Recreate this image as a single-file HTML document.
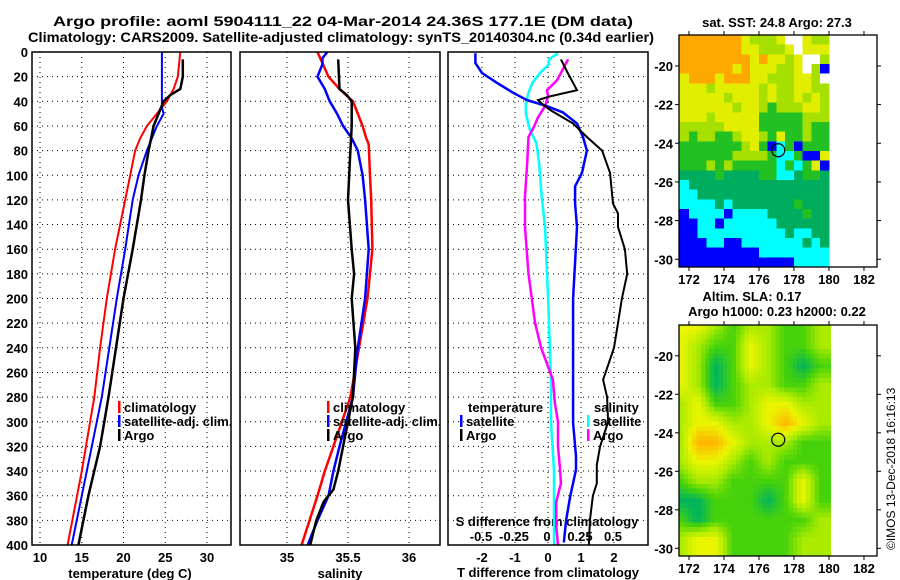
<!DOCTYPE html>
<html><head><meta charset="utf-8"><style>
html,body{margin:0;padding:0;background:#fff;}
svg{display:block;font-family:"Liberation Sans",Arial,sans-serif;font-weight:bold;}
</style></head><body>
<svg id="s" width="900" height="580" viewBox="0 0 900 580" xmlns="http://www.w3.org/2000/svg">
<text x="343" y="26" text-anchor="middle" font-size="14" textLength="580" lengthAdjust="spacingAndGlyphs">Argo profile: aoml 5904111_22 04-Mar-2014 24.36S 177.1E (DM data)</text>
<text x="341" y="42" text-anchor="middle" font-size="14" textLength="626" lengthAdjust="spacingAndGlyphs">Climatology: CARS2009. Satellite-adjusted climatology: synTS_20140304.nc (0.34d earlier)</text>
<text x="777" y="27" text-anchor="middle" font-size="13">sat. SST: 24.8 Argo: 27.3</text>
<text x="752" y="301" text-anchor="middle" font-size="13">Altim. SLA: 0.17</text>
<text x="777" y="316" text-anchor="middle" font-size="13">Argo h1000: 0.23 h2000: 0.22</text>
<text transform="translate(895,550) rotate(-90)" font-size="12" font-weight="normal">©IMOS 13-Dec-2018 16:16:13</text>
<g id="g"></g>
</svg>
<script>
// ---- data ----
const depthTicks=[0,20,40,60,80,100,120,140,160,180,200,220,240,260,280,300,320,340,360,380,400];
const tTicks=[10,15,20,25,30];
const sTicks=[35,35.5,36];
const tdTicks=[-2,-1,0,1,2];
const sdTicks=[-0.5,-0.25,0,0.25,0.5];
const sdTickLabels=["-0.5","-0.25","0","0.25","0.5"];
const tClimD=[0,20,30,40,50,60,70,80,100,120,160,200,240,280,340,400];
const tClimV=[26.8,26.5,26.0,25.2,24.0,22.8,22.0,21.4,20.8,20.2,19.0,18.0,17.2,16.5,15.0,13.3];
const tSatD=[0,45,50,60,80,100,120,160,200,240,280,340,400];
const tSatV=[24.6,24.6,24.8,24.0,22.8,21.8,21.1,20.2,19.2,18.3,17.4,15.6,13.8];
const tArgoD=[6,20,30,35,40,50,60,80,100,120,160,200,240,280,320,360,380,400];
const tArgoV=[27.1,27.1,26.8,25.6,24.8,24.2,23.6,23.0,22.5,22.1,21.1,20.0,19.1,18.2,17.2,15.8,15.2,14.6];
const sClimD=[0,20,30,40,50,60,70,75,100,120,160,200,240,280,320,340,360,400];
const sClimV=[35.25,35.34,35.43,35.54,35.58,35.62,35.65,35.67,35.68,35.69,35.70,35.66,35.59,35.52,35.38,35.31,35.25,35.12];
const sSatD=[0,5,10,20,30,40,50,60,70,80,100,120,160,200,240,280,320,340,360,380,400];
const sSatV=[35.33,35.29,35.29,35.25,35.31,35.35,35.41,35.46,35.53,35.58,35.62,35.64,35.67,35.64,35.58,35.54,35.43,35.38,35.34,35.25,35.17];
const sArgoD=[6,30,35,40,60,80,100,120,160,180,200,240,280,320,340,355,365,380,400];
const sArgoV=[35.42,35.43,35.49,35.53,35.53,35.52,35.51,35.50,35.53,35.55,35.53,35.56,35.54,35.46,35.42,35.38,35.30,35.24,35.19];
const dTSatD=[1,9,17,25,33,39,44,49,58,69,80,98,109,123,142,200,266,301,328,339,361,380,398];
const dTSatV=[-2.2,-2.2,-2.0,-1.55,-1.06,-0.64,-0.03,0.45,0.88,1.06,1.18,1.03,0.82,0.82,0.88,0.76,0.76,0.76,0.85,0.85,0.67,0.55,0.48];
const dTArgoD=[6,17,31,36,39,42,47,58,69,80,98,123,131,142,160,180,200,220,240,266,280,300,320,335,350,360,380,400];
const dTArgoV=[0.39,0.6,0.88,0.06,-0.3,-0.18,0.06,0.76,1.18,1.64,1.88,1.97,2.12,2.12,2.33,2.4,2.24,2.12,2.0,1.67,1.79,1.82,1.58,1.48,1.48,1.36,1.27,1.24];
const dSSatD=[1,6,10,17,25,33,42,50,63,74,90,117,142,200,266,300,340,380,400];
const dSSatV=[0.083,0.015,0.015,-0.053,-0.11,-0.14,-0.16,-0.16,-0.13,-0.08,-0.06,-0.04,-0.015,0.008,0.03,0.03,0.053,0.053,0.053];
const dSArgoD=[6,14,23,31,36,44,53,61,69,90,117,142,180,220,240,266,285,300,320,340,350,365,385,400];
const dSArgoV=[0.16,0.12,0.076,0,0.008,-0.015,-0.068,-0.1,-0.14,-0.15,-0.167,-0.167,-0.14,-0.09,-0.045,0.045,0.06,0.083,0.083,0.1,0.105,0.07,0.07,0.083];
const lonTicks=[172,174,176,178,180,182];
const latTicks=[-20,-22,-24,-26,-28,-30];
const argoLon=177.1, argoLat=-24.36;
const sstRows=[
"OOOOOOOYGGGYWWYGG","OOOOOOOYYGGGYWYYY","OOOOOOOOYOYYGYWWG","OOOOOOYOYYYGGYWGB",
"YOOOYOOOYYGGGYYGW","YYYGYYYYYGYGGYYGG","YYYYYGYYYGYGGYGYG","YYYYYYGYYGDGGGYYG",
"YYYGYYYYYDDDDDGGG","GGGGGYYYYDDDDDGDD","GDGGDDGYYGDYDDGDD","DDDDDDDGYDBCDBDDD",
"DDDDDDGGGGDCCDBBY","DDDGDGDDDDDCDCDYB","TTTTDTTTTDDCCTDDT","CTTTTTTTTTTTTTTTT",
"CCTTTTTTTTTTTTTTT","CCCCTCTTTTTTTDTTT","BCCCCBCCCCTTTTDTT","BBCCBCCCCCCTTTTTT",
"BBCCCCCCCCCCTCCTT","BBBCCBBCCCCCCCTCT","BBBBBBBBBCCCCCCCC","BBBBBBBBBBBBBCCCC"];
const slaGrid=[
[3,3,2,1,2,2,1,1,2],[3,2,1,1,3,2,1,1,2],[3,2,0,1,3,2,1,0,1],[3,2,0,1,2,2,1,1,2],
[2,3,1,1,2,3,3,2,2],[2,3,3,2,2,3,4,3,2],[2,4,4,3,2,2,2,1,1],[2,3,3,2,1,2,1,1,1],
[1,2,2,1,1,1,1,3,1],[0,0,1,1,1,0,1,3,1],[1,0,1,1,1,1,1,1,2],[2,3,3,1,1,1,1,2,2],[2,3,3,1,1,1,1,2,2]];

const NS="http://www.w3.org/2000/svg";
const G=document.getElementById('g');
function mk(tag,attrs,parent){const e=document.createElementNS(NS,tag);for(const k in attrs)e.setAttribute(k,attrs[k]);(parent||G).appendChild(e);return e;}
const Y0=52,Y1=545;
const yD=d=>Y0+d*(Y1-Y0)/400;
const xT=v=>40+(v-10)*8.35;
const xS=v=>287+(v-35)*122;
const xDT=v=>548+v*33;
const xDS=v=>547+v*132;
const panels=[[32,231],[240,440],[448,648]];

function frame(x0,x1,name){
  const r=mk('rect',{x:x0,y:Y0,width:x1-x0,height:Y1-Y0,fill:'none',stroke:'#000','stroke-width':1.5});
  
  
}
function grid(x0,x1,xs){
  depthTicks.forEach(d=>{if(d>0&&d<400){const l=mk('line',{x1:x0,x2:x1,y1:yD(d),y2:yD(d),stroke:'#000','stroke-dasharray':'1,4'});
    }});
  xs.forEach(x=>{const l=mk('line',{x1:x,x2:x,y1:Y0,y2:Y1,stroke:'#000','stroke-dasharray':'1,4'});
    });
}
function line(D,V,fx,color,w,name){
  const pts=D.map((d,i)=>fx(V[i]).toFixed(1)+','+yD(d).toFixed(1)).join(' ');
  const p=mk('polyline',{points:pts,fill:'none',stroke:color,'stroke-width':w});
  
  
}
function txt(x,y,s,opts,name){
  const t=mk('text',Object.assign({x:x,y:y,'font-size':12},opts||{}));t.textContent=s;
  
  
  return t;
}
grid(32,231,tTicks.map(xT));
grid(240,440,sTicks.map(xS));
grid(448,648,tdTicks.map(xDT));
depthTicks.forEach(d=>txt(28,yD(d)+5,String(d),{'text-anchor':'end','font-size':13},'y-tick-label'));
tTicks.forEach(v=>txt(xT(v),562,String(v),{'text-anchor':'middle','font-size':13},'x-tick-label-temperature'));
sTicks.forEach(v=>txt(xS(v),562,String(v),{'text-anchor':'middle','font-size':13},'x-tick-label-salinity'));
tdTicks.forEach(v=>txt(xDT(v),562,String(v),{'text-anchor':'middle','font-size':13},'x-tick-label-tdiff'));
sdTicks.forEach((v,i)=>txt(xDS(v),541,sdTickLabels[i],{'text-anchor':'middle','font-size':13},'s-diff-tick-label'));
txt(130,578,'temperature (deg C)',{'text-anchor':'middle','font-size':13},'x-axis-title-temperature');
txt(340,578,'salinity',{'text-anchor':'middle','font-size':13},'x-axis-title-salinity');
txt(548,577,'T difference from climatology',{'text-anchor':'middle','font-size':13},'x-axis-title-tdiff');
txt(547,526,'S difference from climatology',{'text-anchor':'middle','font-size':13},'s-diff-axis-title');
line(tClimD,tClimV,xT,'#ff0000',2,'temperature-climatology-line');
line(tSatD,tSatV,xT,'#0000ff',2,'temperature-satellite-line');
line(tArgoD,tArgoV,xT,'#000000',2.5,'temperature-argo-line');
line(sClimD,sClimV,xS,'#ff0000',2.5,'salinity-climatology-line');
line(sSatD,sSatV,xS,'#0000ff',2.5,'salinity-satellite-line');
line(sArgoD,sArgoV,xS,'#000000',2.5,'salinity-argo-line');
line(dSSatD,dSSatV,xDS,'#00ffff',2.5,'sdiff-satellite-line');
line(dSArgoD,dSArgoV,xDS,'#ff00ff',2.5,'sdiff-argo-line');
line(dTSatD,dTSatV,xDT,'#0000ff',2.5,'tdiff-satellite-line');
line(dTArgoD,dTArgoV,xDT,'#000000',2,'tdiff-argo-line');
function leg(x,y,color,label,name){
  const r=mk('rect',{x:x-1,y:y-11,width:2.5,height:12,fill:color});
  
  txt(x+5,y,label,{'font-size':13},name);
}
[[119,'#ff0000','climatology'],[119,'#0000ff','satellite-adj. clim.'],[119,'#000000','Argo']].forEach((e,i)=>leg(e[0],412+i*14,e[1],e[2],'legend-entry-temperature'));
[[328,'#ff0000','climatology'],[328,'#0000ff','satellite-adj. clim.'],[328,'#000000','Argo']].forEach((e,i)=>leg(e[0],412+i*14,e[1],e[2],'legend-entry-salinity'));
txt(468,412,'temperature',{'font-size':13},'legend-title-temperature');
txt(594,412,'salinity',{'font-size':13},'legend-title-salinity');
leg(461,426,'#0000ff','satellite','legend-entry-tdiff');
leg(461,440,'#000000','Argo','legend-entry-tdiff');
leg(588,426,'#00ffff','satellite','legend-entry-sdiff');
leg(588,440,'#ff00ff','Argo','legend-entry-sdiff');
panels.forEach((p,i)=>frame(p[0],p[1],'profile-panel-frame-'+(i+1)));

// ---- maps ----
const sstColor={O:'#ffa800',Y:'#e2ee00',G:'#a6e000',D:'#22c022',T:'#00ad5e',C:'#00ffff',B:'#0000ff',W:'#ffffff'};
const slaColor=[[0,180,95],[70,210,10],[170,235,0],[235,245,0],[255,180,0]];
function slaCol(v){v=Math.max(0,Math.min(4,v));const i=Math.min(3,Math.floor(v)),f=v-i;
  const a=slaColor[i],b=slaColor[i+1];return 'rgb('+a.map((x,k)=>Math.round(x+(b[k]-x)*f)).join(',')+')';}
function drawMap(top,bot,which){
  const latTop=-18.4, latBot=-30.4;
  const ly=v=>top+(latTop-v)*(bot-top)/(latTop-latBot);
  const lx=v=>679+(v-171.43)*17.5;
  const grp=mk('g',{'shape-rendering':'crispEdges'});
  
  
  if(which==='sst'){
    sstRows.forEach((row,r)=>{
      for(let c=0;c<row.length;c++){
        const x0=c===0?679:lx(171.5+c*0.5), x1=lx(172+c*0.5);
        const y0=ly(latTop-r*0.5), y1=ly(Math.max(latBot,latTop-(r+1)*0.5));
        const cell=mk('rect',{x:x0,y:y0,width:x1-x0+0.5,height:y1-y0+0.5,fill:sstColor[row[c]]},grp);
        
        
      }
    });
  } else {
    const nr=slaGrid.length,nc=slaGrid[0].length;
    const step=0.25;
    for(let la=latTop;la>latBot+1e-6;la-=step){
      for(let lo=171.43;lo<180.1-1e-6;lo+=step){
        const cl=la-step/2, co=lo+step/2;
        let fr=Math.min(nr-1,Math.max(0,(-18.5-cl)));
        let fc=Math.min(nc-1,Math.max(0,(co-171.5)));
        const r0=Math.floor(fr),c0=Math.floor(fc),r1=Math.min(nr-1,r0+1),c1=Math.min(nc-1,c0+1);
        const a=fr-r0,b=fc-c0;
        const v=(1-a)*((1-b)*slaGrid[r0][c0]+b*slaGrid[r0][c1])+a*((1-b)*slaGrid[r1][c0]+b*slaGrid[r1][c1]);
        const x0=lx(lo),x1=Math.min(lx(180.1),lx(lo+step));
        const y1=Math.min(bot,ly(la-step));
        const cell=mk('rect',{x:x0,y:ly(la),width:x1-x0+0.5,height:y1-ly(la)+0.5,fill:slaCol(v)},grp);
        
        
      }
    }
  }
  const fr=mk('rect',{x:679,y:top,width:198,height:bot-top,fill:'none',stroke:'#000','stroke-width':1.3});
  
  
  latTicks.forEach(v=>{txt(673,ly(v)+5,String(v),{'text-anchor':'end','font-size':13},'map-lat-label');
    mk('line',{x1:675,x2:679,y1:ly(v),y2:ly(v),stroke:'#000'});mk('line',{x1:877,x2:881,y1:ly(v),y2:ly(v),stroke:'#000'});});
  lonTicks.forEach(v=>{txt(lx(v),bot+17,String(v),{'text-anchor':'middle','font-size':13},'map-lon-label');
    mk('line',{x1:lx(v),x2:lx(v),y1:bot,y2:bot+4,stroke:'#000'});mk('line',{x1:lx(v),x2:lx(v),y1:top,y2:top-4,stroke:'#000'});});
  const c=mk('circle',{cx:lx(argoLon),cy:ly(argoLat),r:6.5,fill:'none',stroke:'#000','stroke-width':1.2});
  
  
}
drawMap(35,267,'sst');
drawMap(325,556,'sla');
</script>
</body></html>
